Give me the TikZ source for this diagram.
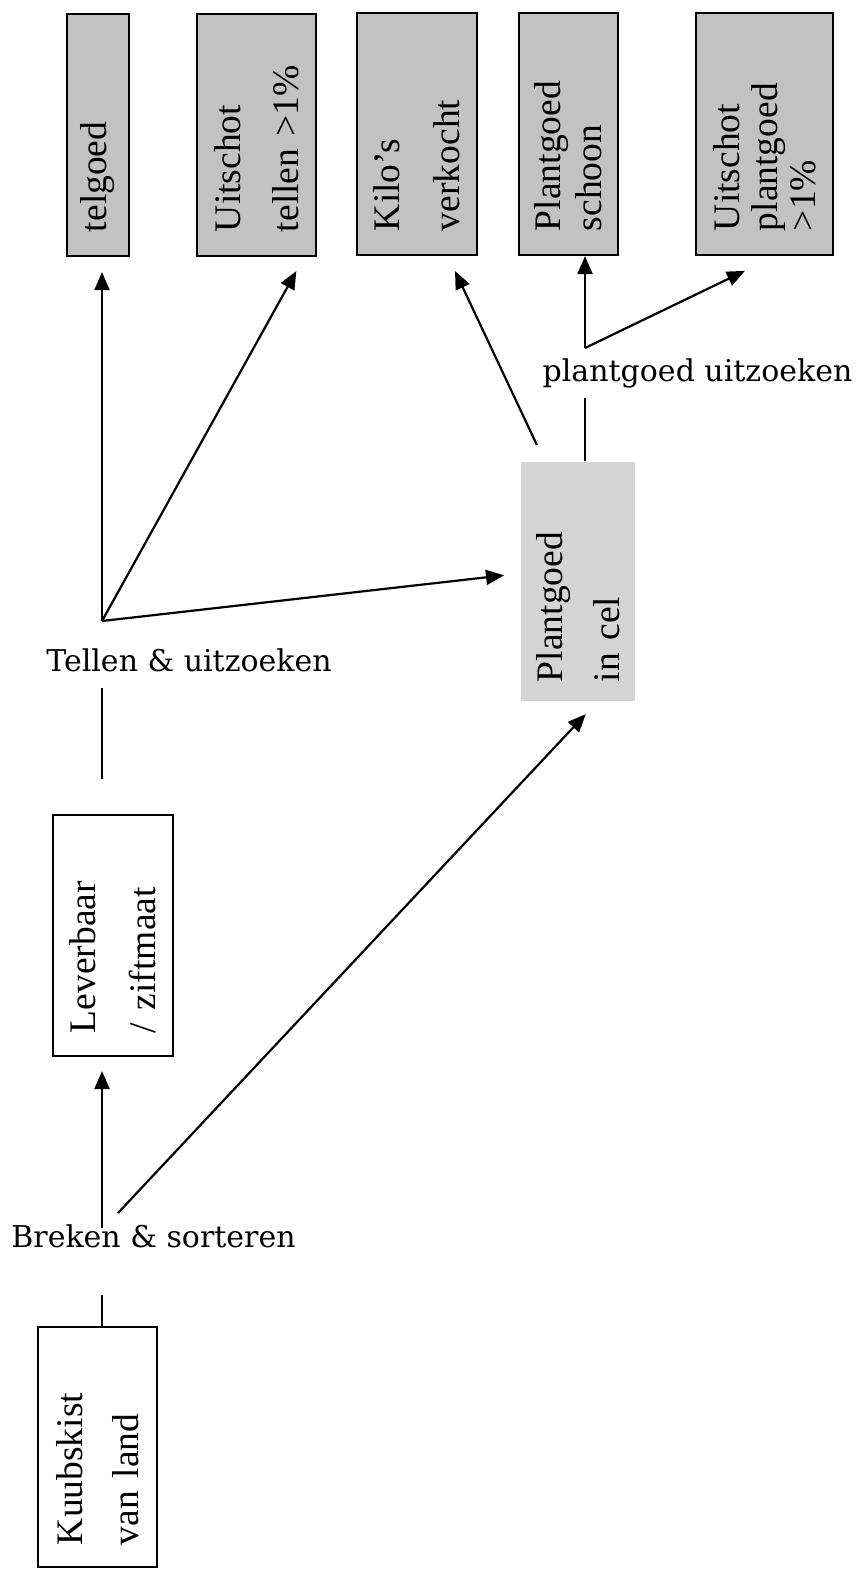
\documentclass[tikz,border=0pt]{standalone}
\usepackage{fontspec}
\setmainfont{Liberation Serif}
\newfontfamily\boxfont{Liberation Serif}
\newfontfamily\labelfont{DejaVu Serif}
\usetikzlibrary{arrows.meta}

\begin{document}
\begin{tikzpicture}[x=1pt, y=-1pt,
    box/.style={draw, line width=2.2pt, rotate=90, align=left, inner ysep=0pt,
        font=\boxfont\fontsize{37.5}{38}\selectfont},
    topbox/.style={box, fill=black!24, minimum width=242pt, inner xsep=24pt, text width=194pt},
    celbox/.style={box, draw=none, fill=black!17, minimum width=239pt, inner xsep=19pt, text width=201pt},
    whitebox/.style={box, line width=2pt, fill=white, minimum width=240pt, inner xsep=22pt, text width=196pt},
    lbl/.style={font=\labelfont\fontsize{30}{32}\selectfont, inner sep=2pt, anchor=base},
    arr/.style={-{Triangle[length=18pt, width=15pt]}, line width=2.2pt},
    ln/.style={line width=2.2pt}]

\useasboundingbox (0,0) rectangle (860,1573);

% bovenste rij
\node[topbox, minimum height=62pt] (telgoed) at (98,135) {telgoed};
\node[topbox, minimum height=119pt] (uitt) at (256.5,135) {Uitschot\\[20pt]tellen >1\%};
\node[topbox, minimum height=120pt] (kilo) at (417,134) {Kilo’s\\[22pt]verkocht};
\node[topbox, minimum height=99pt] (schoon) at (568.5,134) {Plantgoed\\[3pt]schoon};
\node[topbox, minimum height=137pt] (uitp) at (764.5,134) {Uitschot\\plantgoed\\>1\%};

\node[celbox, minimum height=114pt] (cel) at (578,581.5) {Plantgoed\\[19pt]in cel};
\node[whitebox, minimum height=120pt, minimum width=241pt, inner xsep=23pt, text width=195pt] (lev) at (113,935.5) {Leverbaar\\[22pt]/ ziftmaat};
\node[whitebox, minimum height=119pt] (kuub) at (97.5,1447) {Kuubskist\\[18pt]van land};

\node[lbl] (uitzoeken) at (697.5,381) {plantgoed uitzoeken};
\node[lbl] (tellen) at (189,671) {Tellen \& uitzoeken};
\node[lbl] (breken) at (153.5,1247) {Breken \& sorteren};

\coordinate (pj) at (585,348);
\coordinate (tj) at (102,621);
\coordinate (bj) at (102,1228);
\coordinate (bjr) at (118,1213);

% van land naar breken
\draw[ln, shorten >=45pt] (kuub.east -| bj) -- (bj |- breken.south);
\draw[arr, shorten >=14pt] (bj) -- (bj |- lev.west);
\draw[arr, shorten >=16.5pt] (bjr) -- ([xshift=19pt]cel.west);

% tellen
\draw[ln, shorten <=35pt, shorten >=14pt] (lev.east -| tj) -- (tj |- tellen.south);
\draw[arr, shorten >=15pt] (tj) -- (tj |- telgoed.west);
\draw[arr, shorten >=16pt] (tj) -- ([xshift=-13pt]uitt.south west);
\draw[arr, shorten >=16pt] (tj) -- ([yshift=8pt]cel.north);

% uit de cel
\draw[arr, shorten <=17.6pt, shorten >=16.5pt] ([xshift=-33.6pt]cel.east) -- ([xshift=31pt]kilo.west);
\draw[ln, shorten >=8pt] ([xshift=7pt]cel.east) -- (pj |- uitzoeken.south);
\draw[arr] (pj) -- (pj |- schoon.west);
\draw[arr, shorten >=34pt] (pj) -- ([xshift=11pt]uitp.west);

\end{tikzpicture}
\end{document}
